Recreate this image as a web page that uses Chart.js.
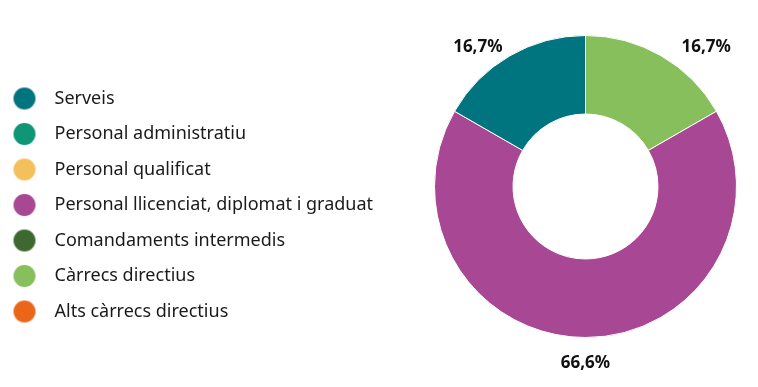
<!DOCTYPE html>
<html>
<head>
<meta charset="utf-8">
<script src="https://cdn.jsdelivr.net/npm/chart.js@4.4.1/dist/chart.umd.min.js"></script>
<style>
  html, body { margin: 0; padding: 0; background: #fff; }
  #wrap { width: 758px; height: 387px; }
</style>
</head>
<body>
<div id="wrap"><canvas id="perfilChart"></canvas></div>
<script>
const categories = ['Serveis', 'Personal administratiu', 'Personal qualificat', 'Personal llicenciat, diplomat i graduat', 'Comandaments intermedis', 'Càrrecs directius', 'Alts càrrecs directius'];
const values = [16.7, 0, 0, 66.6, 0, 16.7, 0];
const valueLabels = ['16,7%', '', '', '66,6%', '', '16,7%', ''];
const colors = ['#00747f', '#0f9677', '#f4c05c', '#a84793', '#3d6930', '#86bf5c', '#ec661a'];

// the reference runs counter-clockwise, Chart.js draws clockwise -> reverse the slices
const n = categories.length;
const rev = function (arr) { return arr.slice().reverse(); };

// legend dot, drawn a bit left inside its box
function dot(color) {
    const c = document.createElement('canvas');
    c.width = 38; c.height = 24;
    const g = c.getContext('2d');
    g.fillStyle = color;
    g.beginPath();
    g.arc(12, 12, 11, 0, Math.PI * 2);
    g.fill();
    return c;
}

const legendWidth = {
    id: 'legendWidth',
    beforeInit(chart) {
        const fit = chart.legend.fit;
        chart.legend.fit = function () {
            fit.call(this);
            this.width = 413;
        };
    }
};

const sliceLabels = {
    id: 'sliceLabels',
    afterDatasetsDraw(chart) {
        const ctx = chart.ctx;
        const meta = chart.getDatasetMeta(0);
        const texts = rev(valueLabels);
        ctx.save();
        ctx.font = 'bold 17px "Noto Sans"';
        ctx.fillStyle = '#111';
        ctx.textAlign = 'center';
        ctx.textBaseline = 'middle';
        meta.data.forEach(function (arc, i) {
            if (!texts[i]) return;
            const p = arc.getProps(['x', 'y', 'startAngle', 'endAngle', 'outerRadius'], true);
            const mid = (p.startAngle + p.endAngle) / 2;
            const r = p.outerRadius + 26;
            let x = p.x + Math.cos(mid) * r;
            let y = p.y + Math.sin(mid) * r;
            if (y < p.y) {
                // upper labels sit beside the ring, not on top of it
                x += Math.cos(mid) < 0 ? -19 : 32;
                y += 14;
            }
            ctx.fillText(texts[i], x, y);
        });
        ctx.restore();
    }
};

const ctx = document.getElementById('perfilChart');
new Chart(ctx, {
    type: 'doughnut',
    data: {
        labels: rev(categories),
        datasets: [{
            data: rev(values),
            backgroundColor: rev(colors),
            borderColor: '#ffffff',
            borderWidth: 1
        }]
    },
    options: {
        responsive: true,
        maintainAspectRatio: false,
        animation: false,
        cutout: '48%',
        layout: { padding: { top: 35, bottom: 49 } },
        plugins: {
            tooltip: { enabled: false },
            legend: {
                position: 'left',
                align: 'end',
                labels: {
                    usePointStyle: true,
                    pointStyleWidth: 28,
                    padding: 17.5,
                    color: '#1a1a1a',
                    font: { family: '"Noto Sans"', size: 18 },
                    generateLabels: function (chart) {
                        return categories.map(function (text, i) {
                            return {
                                text: text,
                                fillStyle: colors[i],
                                strokeStyle: colors[i],
                                lineWidth: 0,
                                fontColor: '#1a1a1a',
                                pointStyle: dot(colors[i]),
                                hidden: !chart.getDataVisibility(n - 1 - i),
                                index: n - 1 - i
                            };
                        });
                    }
                }
            }
        }
    },
    plugins: [legendWidth, sliceLabels]
});
</script>
</body>
</html>
